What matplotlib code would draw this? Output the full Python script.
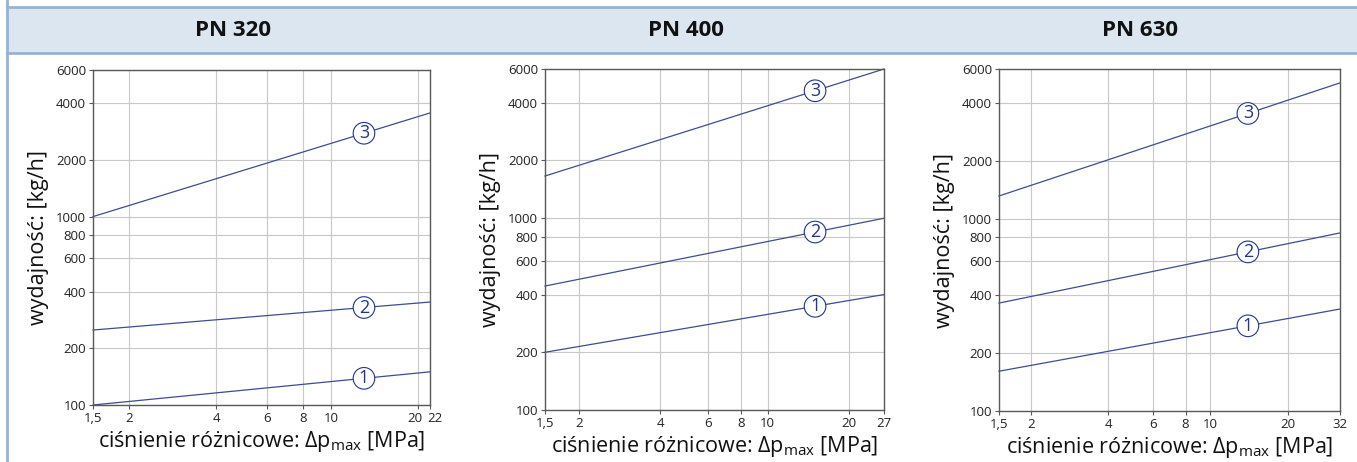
import numpy as np
import matplotlib
matplotlib.use("Agg")
import matplotlib.pyplot as plt
import matplotlib.transforms as mtransforms
from matplotlib.patches import Rectangle
from matplotlib.lines import Line2D

plt.rcParams['font.family'] = ['Open Sans', 'DejaVu Sans']

# Data
pn_labels = ["PN 320", "PN 400", "PN 630"]
dp_min = 1.5
dp_max = [22, 27, 32]
dp_tick_vals = [1.5, 2, 4, 6, 8, 10, 20]
q_tick_vals = [100, 200, 400, 600, 800, 1000, 2000, 4000, 6000]

# flow at dp_min and at dp_max for curves 1, 2, 3
q1_start = [100, 200, 161]
q1_end = [150, 400, 339]
q2_start = [250, 443, 364]
q2_end = [352, 1000, 843]
q3_start = [1000, 1660, 1312]
q3_end = [3550, 6000, 5080]
label_dp = [13, 15, 14]

line_col = "#3d4d8f"
label_col = "#1f3590"
W, H = 1357, 462

fig = plt.figure(figsize=(W / 100, H / 100), dpi=100)

# header band
band_top, band_bot = 7, 53
fig.patches.append(Rectangle((7 / W, 1 - band_bot / H), 1 - 7 / W, (band_bot - band_top) / H,
                             transform=fig.transFigure, facecolor="#dce6f1", edgecolor="none"))
for yy in (band_top, band_bot):
    fig.lines.append(Line2D([7 / W, 1], [1 - yy / H] * 2, transform=fig.transFigure,
                            color="#95b3d7", lw=2))
fig.lines.append(Line2D([7 / W] * 2, [0, 1], transform=fig.transFigure, color="#95b3d7", lw=2))

title_x = [233, 686, 1140]
# axes boxes in pixels: left, right, top, bottom
boxes = [(93, 430, 70, 405), (545, 884, 69, 410), (999, 1340, 69, 411)]

for i in range(3):
    l, r, t, b = boxes[i]
    ax = fig.add_axes([l / W, 1 - b / H, (r - l) / W, (b - t) / H])
    ax.set_xscale("log")
    ax.set_yscale("log")
    ax.set_xlim(dp_min, dp_max[i])
    ax.set_ylim(100, 6000)

    xt = dp_tick_vals + [dp_max[i]]
    ax.set_xticks(xt)
    ax.set_xticklabels([str(v).replace(".", ",") for v in xt])
    ax.set_xticks([], minor=True)
    ax.set_yticks(q_tick_vals)
    ax.set_yticklabels([str(v) for v in q_tick_vals])
    ax.set_yticks([], minor=True)
    ax.tick_params(labelsize=9.5, length=3, width=0.8, color="#595959", pad=2,
                   labelcolor="#222222")
    ax.grid(True, color="#c8c8c8", lw=0.8)
    for s in ax.spines.values():
        s.set_color("#595959")
        s.set_linewidth(1.0)

    # 20 and 22 sit very close on the first panel: nudge them apart
    if dp_max[i] < 25:
        labels = ax.get_xticklabels()
        labels[-2].set_transform(labels[-2].get_transform() +
                                 mtransforms.ScaledTranslation(-3 / 100, 0, fig.dpi_scale_trans))
        labels[-1].set_transform(labels[-1].get_transform() +
                                 mtransforms.ScaledTranslation(5 / 100, 0, fig.dpi_scale_trans))

    starts = [q1_start[i], q2_start[i], q3_start[i]]
    ends = [q1_end[i], q2_end[i], q3_end[i]]
    for k in range(3):
        xs = [dp_min, dp_max[i]]
        ys = [starts[k], ends[k]]
        ax.plot(xs, ys, color=line_col, lw=0.9, clip_on=False)
        ly = 10 ** np.interp(np.log10(label_dp[i]), np.log10(xs), np.log10(ys))
        ax.text(label_dp[i], ly, str(k + 1), ha="center", va="center", fontsize=13,
                color=label_col,
                bbox=dict(boxstyle="circle,pad=0.1", fc="white", ec=label_col, lw=0.8))

    ax.set_xlabel("ciśnienie różnicowe: Δp$_{\\mathregular{max}}$ [MPa]", fontsize=15.5,
                  labelpad=3, color="#111111")
    ax.set_ylabel("wydajność: [kg/h]", fontsize=15.5, labelpad=5, color="#111111")

    fig.text(title_x[i] / W, 1 - 30 / H, pn_labels[i], ha="center", va="center",
             fontsize=16, fontweight="bold", color="#111111")

fig.savefig("out.png", dpi=100)
